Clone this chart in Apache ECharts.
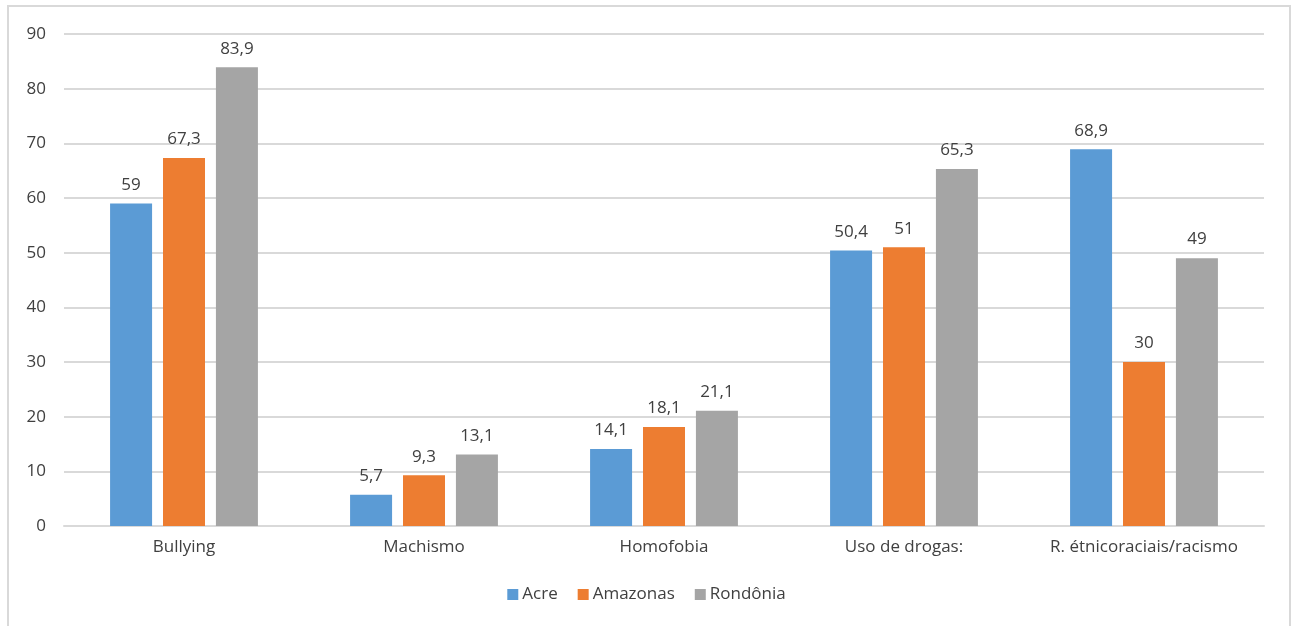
<!DOCTYPE html>
<html>
<head>
<meta charset="utf-8">
<script src="https://cdn.jsdelivr.net/npm/echarts@6/dist/echarts.min.js"></script>
<style>
  html, body { margin: 0; padding: 0; background: #fff; }
  #chart { width: 1293px; height: 626px; }
</style>
</head>
<body>
<div id="chart"></div>
<script>
const categories = ['Bullying', 'Machismo', 'Homofobia', 'Uso de drogas:', 'R. étnicoraciais/racismo'];
const acre = [59, 5.7, 14.1, 50.4, 68.9];
const amazonas = [67.3, 9.3, 18.1, 51, 30];
const rondonia = [83.9, 13.1, 21.1, 65.3, 49];

const FONT = '"Open Sans", "Noto Sans", sans-serif';
const TEXT = '#404040';
const SIZE = 17;

const label = {
  show: true,
  position: 'top',
  distance: 10,
  color: TEXT,
  fontFamily: FONT,
  fontSize: SIZE,
  formatter: p => String(p.value).replace('.', ',')
};

function bar(name, data, color) {
  return {
    name, type: 'bar', data,
    barWidth: 42, barGap: '26%',
    itemStyle: { color },
    label
  };
}

const chart = echarts.init(document.getElementById('chart'));
chart.setOption({
  animation: false,
  textStyle: { fontFamily: FONT, color: TEXT },
  graphic: [{
    type: 'rect',
    shape: { x: 8, y: 6, width: 1282, height: 640 },
    style: { fill: 'none', stroke: '#d9d9d9', lineWidth: 2 },
    silent: true
  }],
  grid: { left: 64, right: 29, top: 34, bottom: 100 },
  legend: {
    bottom: 18,
    left: 'center',
    itemWidth: 11,
    itemHeight: 11,
    itemGap: 20,
    icon: 'rect',
    textStyle: { color: TEXT, fontSize: SIZE, fontFamily: FONT, padding: [0, 0, 0, -1] },
    data: ['Acre', 'Amazonas', 'Rondônia']
  },
  xAxis: {
    type: 'category',
    data: categories,
    axisLine: { lineStyle: { color: '#d9d9d9', width: 2 } },
    axisTick: { show: false },
    axisLabel: { color: TEXT, fontSize: SIZE, fontFamily: FONT, margin: 13, interval: 0 }
  },
  yAxis: {
    type: 'value',
    min: 0, max: 90, interval: 10,
    axisLine: { show: false },
    axisTick: { show: false },
    splitLine: { lineStyle: { color: '#d9d9d9', width: 2 } },
    axisLabel: { color: TEXT, fontSize: SIZE, fontFamily: FONT, margin: 18 }
  },
  series: [
    bar('Acre', acre, '#5b9bd5'),
    bar('Amazonas', amazonas, '#ed7d31'),
    bar('Rondônia', rondonia, '#a5a5a5')
  ]
});
</script>
</body>
</html>
